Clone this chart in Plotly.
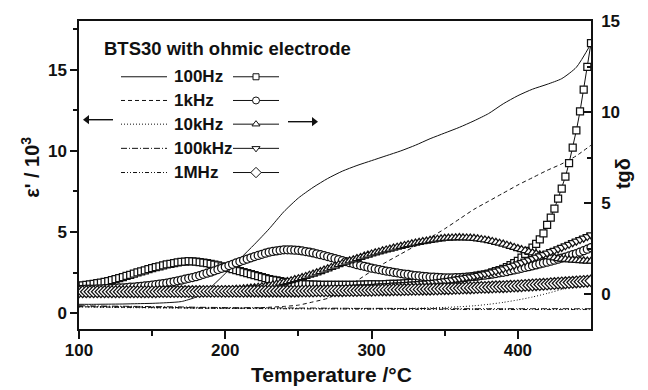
import plotly.graph_objects as go

# ---------------- data ----------------
freqs = ["100Hz", "1kHz", "10kHz", "100kHz", "1MHz"]

# temperature grid of the epsilon' curves (degC)
T_line = [100, 110, 120, 130, 140, 150, 160, 170, 180, 190, 200, 210, 220, 230, 240, 250, 260, 270,
          280, 290, 300, 310, 320, 330, 340, 350, 360, 370, 380, 390, 400, 410, 420, 430, 440, 450]

# epsilon' / 10^3  (left axis)
eps_100Hz = [0.55, 0.55, 0.56, 0.57, 0.59, 0.61, 0.65, 0.72, 1.0, 1.6, 2.45, 3.35, 4.25, 5.2, 6.25, 7.1, 7.75, 8.3,
             8.75, 9.1, 9.4, 9.7, 10.0, 10.35, 10.75, 11.1, 11.45, 11.85, 12.3, 12.9, 13.4, 13.8, 14.1, 14.45, 15.15, 16.6]
eps_1kHz = [0.40, 0.39, 0.38, 0.37, 0.36, 0.35, 0.34, 0.33, 0.32, 0.31, 0.31, 0.31, 0.33, 0.37, 0.42, 0.5, 0.7, 0.92,
            1.4, 2.0, 2.6, 3.15, 3.65, 4.15, 4.65, 5.2, 5.8, 6.4, 6.9, 7.4, 7.9, 8.35, 8.8, 9.2, 9.7, 10.35]
eps_10kHz = [0.38, 0.37, 0.36, 0.35, 0.34, 0.33, 0.32, 0.32, 0.31, 0.30, 0.30, 0.29, 0.29, 0.28, 0.28, 0.28, 0.28, 0.28,
             0.29, 0.29, 0.29, 0.30, 0.30, 0.31, 0.33, 0.36, 0.40, 0.46, 0.55, 0.67, 0.82, 1.0, 1.22, 1.47, 1.78, 2.15]
eps_100kHz = [0.46, 0.45, 0.44, 0.43, 0.42, 0.41, 0.40, 0.39, 0.37, 0.36, 0.35, 0.34, 0.34, 0.33, 0.33, 0.32, 0.32, 0.31,
              0.31, 0.30, 0.30, 0.30, 0.29, 0.29, 0.29, 0.28, 0.28, 0.28, 0.28, 0.28, 0.28, 0.28, 0.28, 0.28, 0.28, 0.28]
eps_1MHz = [0.43, 0.42, 0.41, 0.40, 0.39, 0.37, 0.36, 0.35, 0.34, 0.33, 0.32, 0.31, 0.30, 0.29, 0.28, 0.28, 0.27, 0.27,
            0.26, 0.25, 0.25, 0.25, 0.24, 0.24, 0.24, 0.24, 0.23, 0.23, 0.23, 0.23, 0.23, 0.23, 0.23, 0.23, 0.23, 0.23]

# temperature grid of the tg(delta) points (degC)
T_mark = [100, 102.5, 105, 107.5, 110, 112.5, 115, 117.5,
          120, 122.5, 125, 127.5, 130, 132.5, 135, 137.5,
          140, 142.5, 145, 147.5, 150, 152.5, 155, 157.5,
          160, 162.5, 165, 167.5, 170, 172.5, 175, 177.5,
          180, 182.5, 185, 187.5, 190, 192.5, 195, 197.5,
          200, 202.5, 205, 207.5, 210, 212.5, 215, 217.5,
          220, 222.5, 225, 227.5, 230, 232.5, 235, 237.5,
          240, 242.5, 245, 247.5, 250, 252.5, 255, 257.5,
          260, 262.5, 265, 267.5, 270, 272.5, 275, 277.5,
          280, 282.5, 285, 287.5, 290, 292.5, 295, 297.5,
          300, 302.5, 305, 307.5, 310, 312.5, 315, 317.5,
          320, 322.5, 325, 327.5, 330, 332.5, 335, 337.5,
          340, 342.5, 345, 347.5, 350, 352.5, 355, 357.5,
          360, 362.5, 365, 367.5, 370, 372.5, 375, 377.5,
          380, 382.5, 385, 387.5, 390, 392.5, 395, 397.5,
          400, 402.5, 405, 407.5, 410, 412.5, 415, 417.5,
          420, 422.5, 425, 427.5, 430, 432.5, 435, 437.5,
          440, 442.5, 445, 447.5, 450]

# tg(delta)  (right axis)
tg_100Hz = [.45, .47, .50, .52, .55, .59, .62, .66,
            .70, .76, .81, .87, .93, .99, 1.05, 1.12,
            1.18, 1.24, 1.30, 1.36, 1.42, 1.47, 1.52, 1.57,
            1.62, 1.66, 1.69, 1.73, 1.76, 1.78, 1.80, 1.79,
            1.78, 1.75, 1.72, 1.69, 1.66, 1.61, 1.57, 1.52,
            1.47, 1.42, 1.37, 1.31, 1.26, 1.20, 1.15, 1.09,
            1.03, .98, .93, .87, .82, .78, .74, .70,
            .66, .63, .61, .58, .56, .55, .53, .52,
            .51, .51, .50, .50, .50, .50, .50, .50,
            .50, .50, .50, .50, .50, .51, .51, .52,
            .52, .52, .53, .53, .54, .55, .56, .56,
            .57, .58, .60, .61, .62, .64, .66, .67,
            .69, .71, .73, .75, .77, .79, .82, .84,
            .86, .89, .92, .94, .97, 1.01, 1.05, 1.08,
            1.12, 1.18, 1.25, 1.31, 1.38, 1.48, 1.59, 1.70,
            1.82, 2.0, 2.2, 2.37, 2.55, 2.75, 3.0, 3.33,
            3.8, 4.2, 4.7, 5.25, 5.8, 6.45, 7.2, 8.05,
            9.0, 10.05, 11.25, 12.5, 13.8]
tg_1kHz = [.25, .25, .26, .26, .27, .28, .28, .29,
           .30, .31, .32, .33, .34, .35, .37, .38,
           .40, .42, .44, .46, .48, .51, .54, .57,
           .60, .64, .68, .72, .76, .81, .86, .90,
           .95, 1.01, 1.08, 1.14, 1.20, 1.27, 1.34, 1.41,
           1.48, 1.56, 1.63, 1.71, 1.78, 1.85, 1.92, 1.99,
           2.06, 2.12, 2.18, 2.24, 2.30, 2.34, 2.37, 2.40,
           2.43, 2.43, 2.42, 2.41, 2.40, 2.37, 2.33, 2.30,
           2.26, 2.21, 2.16, 2.11, 2.06, 2.00, 1.95, 1.89,
           1.83, 1.78, 1.72, 1.67, 1.61, 1.56, 1.52, 1.47,
           1.42, 1.38, 1.34, 1.30, 1.26, 1.23, 1.19, 1.16,
           1.12, 1.09, 1.07, 1.04, 1.01, .99, .97, .95,
           .93, .92, .91, .90, .89, .89, .89, .90,
           .90, .91, .93, .94, .96, .98, 1.01, 1.03,
           1.06, 1.09, 1.12, 1.16, 1.19, 1.23, 1.28, 1.32,
           1.36, 1.41, 1.46, 1.50, 1.55, 1.60, 1.65, 1.70,
           1.75, 1.80, 1.86, 1.91, 1.97, 2.03, 2.09, 2.16,
           2.22, 2.30, 2.38, 2.46, 2.55]
tg_10kHz = [.12, .12, .12, .12, .12, .12, .12, .12,
            .12, .12, .12, .12, .12, .12, .12, .13,
            .13, .13, .13, .13, .13, .13, .14, .14,
            .14, .14, .15, .15, .15, .15, .16, .16,
            .16, .16, .17, .17, .18, .19, .19, .20,
            .21, .22, .23, .25, .26, .28, .30, .32,
            .34, .37, .40, .43, .46, .50, .54, .59,
            .63, .68, .73, .79, .84, .90, .96, 1.03,
            1.09, 1.16, 1.23, 1.31, 1.38, 1.46, 1.53, 1.61,
            1.68, 1.75, 1.82, 1.88, 1.95, 2.01, 2.08, 2.14,
            2.20, 2.26, 2.31, 2.37, 2.42, 2.47, 2.52, 2.57,
            2.62, 2.67, 2.71, 2.76, 2.80, 2.84, 2.88, 2.91,
            2.95, 2.98, 3.01, 3.03, 3.06, 3.07, 3.08, 3.09,
            3.10, 3.09, 3.08, 3.07, 3.06, 3.03, 3.00, 2.97,
            2.94, 2.89, 2.84, 2.79, 2.74, 2.68, 2.62, 2.56,
            2.50, 2.44, 2.38, 2.32, 2.26, 2.21, 2.16, 2.11,
            2.06, 2.02, 1.99, 1.95, 1.92, 1.90, 1.88, 1.86,
            1.84, 1.83, 1.82, 1.81, 1.80]
tg_100kHz = [.10, .10, .10, .10, .10, .11, .11, .11,
             .11, .11, .11, .11, .11, .11, .11, .12,
             .12, .12, .12, .12, .12, .12, .12, .12,
             .13, .13, .13, .13, .13, .13, .14, .14,
             .14, .14, .14, .14, .14, .15, .15, .15,
             .15, .15, .16, .16, .17, .17, .18, .18,
             .19, .19, .20, .20, .21, .21, .22, .22,
             .23, .23, .24, .24, .25, .26, .26, .27,
             .28, .28, .29, .29, .30, .31, .32, .32,
             .33, .34, .35, .36, .37, .38, .38, .39,
             .40, .41, .43, .44, .45, .46, .48, .49,
             .50, .51, .53, .54, .56, .57, .59, .60,
             .62, .64, .67, .69, .72, .75, .78, .81,
             .84, .87, .91, .94, .98, 1.02, 1.06, 1.11,
             1.15, 1.21, 1.26, 1.32, 1.38, 1.45, 1.51, 1.58,
             1.65, 1.72, 1.80, 1.87, 1.95, 2.02, 2.10, 2.17,
             2.25, 2.33, 2.40, 2.48, 2.56, 2.65, 2.73, 2.82,
             2.90, 2.99, 3.07, 3.16, 3.25]
tg_1MHz = [.12, .12, .12, .12, .12, .12, .12, .12,
           .12, .12, .12, .12, .12, .12, .12, .12,
           .12, .12, .12, .12, .12, .12, .13, .13,
           .13, .13, .13, .13, .13, .13, .13, .13,
           .13, .13, .14, .14, .14, .14, .14, .14,
           .14, .14, .14, .14, .14, .14, .15, .15,
           .15, .15, .15, .15, .15, .15, .15, .15,
           .15, .15, .15, .15, .15, .16, .16, .16,
           .16, .17, .17, .17, .17, .18, .18, .18,
           .18, .19, .19, .19, .19, .20, .20, .20,
           .20, .21, .21, .22, .22, .22, .23, .23,
           .23, .24, .24, .25, .25, .25, .26, .26,
           .26, .27, .27, .28, .29, .29, .30, .31,
           .31, .32, .33, .33, .34, .35, .36, .36,
           .37, .38, .39, .39, .40, .41, .42, .43,
           .44, .45, .47, .48, .49, .51, .52, .53,
           .54, .56, .57, .59, .60, .61, .63, .64,
           .66, .67, .69, .70, .72]

eps_series = [eps_100Hz, eps_1kHz, eps_10kHz, eps_100kHz, eps_1MHz]
tg_series = [tg_100Hz, tg_1kHz, tg_10kHz, tg_100kHz, tg_1MHz]

x_ticks = [100, 200, 300, 400]
y_ticks = [0, 5, 10, 15]
y2_ticks = [0, 5, 10, 15]

# ---------------- styles ----------------
FONT = "Liberation Sans, Arial, sans-serif"
INK = "#111111"
dashes = ["solid", "4px,3px", "1px,2px", "6px,2px,1px,2px", "4px,2px,1px,2px,1px,2px"]
symbols = ["square", "circle", "triangle-up", "triangle-down", "diamond"]
msizes = [7, 8, 8, 8, 9]
leg_sizes = [6, 7, 7, 7, 8]

fig = go.Figure()

for name, vals, dash in zip(freqs, eps_series, dashes):
    fig.add_trace(go.Scatter(x=T_line, y=vals, mode="lines", name=name + " eps",
                             line=dict(color=INK, width=1, dash=dash, shape="spline", smoothing=0.6),
                             showlegend=False, xaxis="x", yaxis="y"))

for name, vals, sym, ms in zip(freqs, tg_series, symbols, msizes):
    fig.add_trace(go.Scatter(x=T_mark, y=vals, mode="lines+markers", name=name + " tg",
                             line=dict(color=INK, width=1),
                             marker=dict(symbol=sym, size=ms, color="white",
                                         line=dict(color=INK, width=1.25)),
                             showlegend=False, xaxis="x", yaxis="y2"))

# ---------------- hand-made legend (overlay axes in pixel units of the plot area) ----------------
row_y = [73.5, 97.5, 121.5, 146, 170.5]
for name, dash, sym, ms, ry in zip(freqs, dashes, symbols, leg_sizes, row_y):
    fig.add_trace(go.Scatter(x=[121, 167], y=[ry, ry], mode="lines",
                             line=dict(color=INK, width=1, dash=dash),
                             showlegend=False, hoverinfo="skip", xaxis="x2", yaxis="y3"))
    fig.add_trace(go.Scatter(x=[233, 279], y=[ry, ry], mode="lines",
                             line=dict(color=INK, width=1),
                             showlegend=False, hoverinfo="skip", xaxis="x2", yaxis="y3"))
    fig.add_trace(go.Scatter(x=[256], y=[ry], mode="markers",
                             marker=dict(symbol=sym, size=ms, color="white", line=dict(color=INK, width=1)),
                             showlegend=False, hoverinfo="skip", xaxis="x2", yaxis="y3"))

# arrows pointing to the axis each group belongs to
for (x0, x1, ay, head, hsym) in [(89, 113, 117, 87, "triangle-left"), (288, 312, 119, 314, "triangle-right")]:
    fig.add_trace(go.Scatter(x=[x0, x1], y=[ay, ay], mode="lines", line=dict(color=INK, width=1.4),
                             showlegend=False, hoverinfo="skip", xaxis="x2", yaxis="y3"))
    fig.add_trace(go.Scatter(x=[head], y=[ay], mode="markers",
                             marker=dict(symbol=hsym, size=8, color=INK, line=dict(width=0)),
                             showlegend=False, hoverinfo="skip", xaxis="x2", yaxis="y3"))

bold = dict(family=FONT, color=INK, weight="bold")
ann = []
ann.append(dict(text="BTS30 with ohmic electrode", x=102, y=45, xref="x2", yref="y3",
                xanchor="left", yanchor="middle", showarrow=False, font=dict(size=18.5, **bold)))
for name, ry in zip(freqs, row_y):
    ann.append(dict(text=name, x=172, y=ry, xref="x2", yref="y3", xanchor="left", yanchor="middle",
                    showarrow=False, font=dict(size=17, **bold)))
# axis titles (paper coordinates)
ann.append(dict(text="ε' / 10<sup>3</sup>", x=-0.094, y=0.526, xref="paper", yref="paper", textangle=-90,
                xanchor="center", yanchor="middle", showarrow=False, font=dict(size=20, **bold)))
ann.append(dict(text="tgδ", x=1.0625, y=0.503, xref="paper", yref="paper", textangle=-90,
                xanchor="center", yanchor="middle", showarrow=False, font=dict(size=20, **bold)))
ann.append(dict(text="Temperature /°C", x=0.494, y=-0.147, xref="paper", yref="paper",
                xanchor="center", yanchor="middle", showarrow=False, font=dict(size=21, **bold)))

tickfont = dict(size=17, **bold)
fig.update_layout(
    width=648, height=390,
    margin=dict(l=79, r=57, t=17, b=61),
    paper_bgcolor="white", plot_bgcolor="white",
    showlegend=False,
    annotations=ann,
    xaxis=dict(range=[100, 450], tickvals=x_ticks, ticks="outside", ticklen=8, tickwidth=1.5,
               tickcolor=INK, showline=True, linewidth=1.5, linecolor=INK, mirror=True,
               showgrid=False, zeroline=False, tickfont=tickfont, ticklabelstandoff=-3,
               minor=dict(tickvals=[150, 250, 350], ticks="outside", ticklen=5, tickwidth=1.5, tickcolor=INK)),
    yaxis=dict(range=[-0.97, 18.0], tickvals=y_ticks, ticks="outside", ticklen=7, tickwidth=1.5,
               tickcolor=INK, showline=True, linewidth=1.5, linecolor=INK,
               showgrid=False, zeroline=False, tickfont=tickfont,
               minor=dict(tickvals=[2.5, 7.5, 12.5, 17.5], ticks="outside", ticklen=4, tickwidth=1.5, tickcolor=INK)),
    yaxis2=dict(range=[-1.93, 15.02], overlaying="y", side="right", tickvals=y2_ticks, ticks="inside",
                ticklen=7, tickwidth=1.5, tickcolor=INK, showline=True, linewidth=1.5, linecolor=INK,
                showgrid=False, zeroline=False, tickfont=tickfont, ticklabelstandoff=5,
                minor=dict(tickvals=[2.5, 7.5, 12.5], ticks="inside", ticklen=4, tickwidth=1.5, tickcolor=INK)),
    xaxis2=dict(range=[79, 591], overlaying="x", visible=False, fixedrange=True),
    yaxis3=dict(range=[329, 17], overlaying="y", visible=False, fixedrange=True),
)

fig.write_html("out.html")
